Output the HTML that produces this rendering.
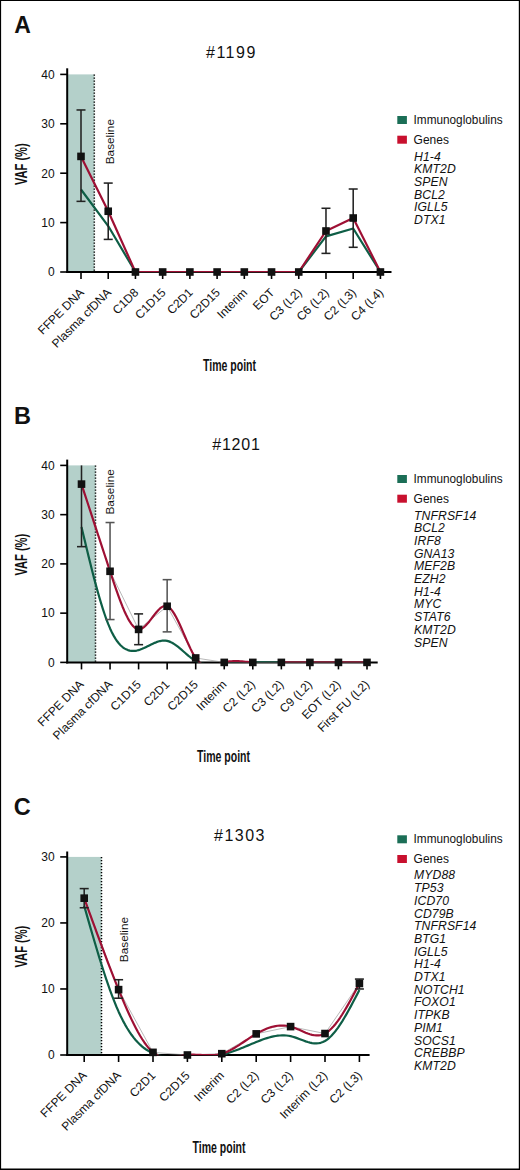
<!DOCTYPE html>
<html><head><meta charset="utf-8"><style>
html,body{margin:0;padding:0;background:#fff;}
svg{display:block;}
</style></head><body>
<svg width="520" height="1170" viewBox="0 0 520 1170" font-family='"Liberation Sans", sans-serif' fill="#111">
<rect x="0" y="0" width="520" height="1170" fill="#fff"/>
<text x="14.2" y="33" font-size="23" font-weight="bold">A</text>
<text x="206" y="58.1" font-size="16" letter-spacing="1.5">#1199</text>
<rect x="67.2" y="74.40" width="27.10" height="197.60" fill="#b4d0ca"/>
<line x1="94.3" y1="74.40" x2="94.3" y2="272.0" stroke="#000" stroke-width="1.5" stroke-dasharray="1.4 1.6"/>
<text transform="translate(113.8,164.3) rotate(-90)" font-size="11.8">Baseline</text>
<line x1="67.2" y1="68.3" x2="67.2" y2="273.0" stroke="#000" stroke-width="2"/>
<line x1="60.2" y1="272.00" x2="67.2" y2="272.00" stroke="#000" stroke-width="1.6"/>
<text x="54.7" y="276.30" font-size="12" text-anchor="end">0</text>
<line x1="60.2" y1="222.60" x2="67.2" y2="222.60" stroke="#000" stroke-width="1.6"/>
<text x="54.7" y="226.90" font-size="12" text-anchor="end">10</text>
<line x1="60.2" y1="173.20" x2="67.2" y2="173.20" stroke="#000" stroke-width="1.6"/>
<text x="54.7" y="177.50" font-size="12" text-anchor="end">20</text>
<line x1="60.2" y1="123.80" x2="67.2" y2="123.80" stroke="#000" stroke-width="1.6"/>
<text x="54.7" y="128.10" font-size="12" text-anchor="end">30</text>
<line x1="60.2" y1="74.40" x2="67.2" y2="74.40" stroke="#000" stroke-width="1.6"/>
<text x="54.7" y="78.70" font-size="12" text-anchor="end">40</text>
<line x1="66.2" y1="272.0" x2="391.5" y2="272.0" stroke="#000" stroke-width="2"/>
<line x1="81.00" y1="272.0" x2="81.00" y2="279.0" stroke="#000" stroke-width="1.6"/>
<text transform="translate(84.70,293.30) rotate(-45)" font-size="12" text-anchor="end">FFPE DNA</text>
<line x1="108.22" y1="272.0" x2="108.22" y2="279.0" stroke="#000" stroke-width="1.6"/>
<text transform="translate(111.92,293.30) rotate(-45)" font-size="12" text-anchor="end">Plasma cfDNA</text>
<line x1="135.44" y1="272.0" x2="135.44" y2="279.0" stroke="#000" stroke-width="1.6"/>
<text transform="translate(139.14,293.30) rotate(-45)" font-size="12" text-anchor="end">C1D8</text>
<line x1="162.66" y1="272.0" x2="162.66" y2="279.0" stroke="#000" stroke-width="1.6"/>
<text transform="translate(166.36,293.30) rotate(-45)" font-size="12" text-anchor="end">C1D15</text>
<line x1="189.88" y1="272.0" x2="189.88" y2="279.0" stroke="#000" stroke-width="1.6"/>
<text transform="translate(193.58,293.30) rotate(-45)" font-size="12" text-anchor="end">C2D1</text>
<line x1="217.10" y1="272.0" x2="217.10" y2="279.0" stroke="#000" stroke-width="1.6"/>
<text transform="translate(220.80,293.30) rotate(-45)" font-size="12" text-anchor="end">C2D15</text>
<line x1="244.32" y1="272.0" x2="244.32" y2="279.0" stroke="#000" stroke-width="1.6"/>
<text transform="translate(248.02,293.30) rotate(-45)" font-size="12" text-anchor="end">Interim</text>
<line x1="271.54" y1="272.0" x2="271.54" y2="279.0" stroke="#000" stroke-width="1.6"/>
<text transform="translate(275.24,293.30) rotate(-45)" font-size="12" text-anchor="end">EOT</text>
<line x1="298.76" y1="272.0" x2="298.76" y2="279.0" stroke="#000" stroke-width="1.6"/>
<text transform="translate(302.46,293.30) rotate(-45)" font-size="12" text-anchor="end">C3 (L2)</text>
<line x1="325.98" y1="272.0" x2="325.98" y2="279.0" stroke="#000" stroke-width="1.6"/>
<text transform="translate(329.68,293.30) rotate(-45)" font-size="12" text-anchor="end">C6 (L2)</text>
<line x1="353.20" y1="272.0" x2="353.20" y2="279.0" stroke="#000" stroke-width="1.6"/>
<text transform="translate(356.90,293.30) rotate(-45)" font-size="12" text-anchor="end">C2 (L3)</text>
<line x1="380.42" y1="272.0" x2="380.42" y2="279.0" stroke="#000" stroke-width="1.6"/>
<text transform="translate(384.12,293.30) rotate(-45)" font-size="12" text-anchor="end">C4 (L4)</text>
<text transform="translate(27,164.2) rotate(-90)" font-size="16" font-weight="bold" text-anchor="middle" textLength="41.8" lengthAdjust="spacingAndGlyphs">VAF (%)</text>
<text x="203" y="370.5" font-size="16.5" font-weight="bold" textLength="53" lengthAdjust="spacingAndGlyphs">Time point</text>
<clipPath id="clipA"><rect x="67.2" y="54.40" width="324.30" height="217.80"/></clipPath>
<g clip-path="url(#clipA)">
<path d="M81.00,189.50 L108.22,226.06 L135.44,272.00 L162.66,272.00 L189.88,272.00 L217.10,272.00 L244.32,272.00 L271.54,272.00 L298.76,272.00 L325.98,236.43 L353.20,228.53 L380.42,272.00" fill="none" stroke="#0e5e46" stroke-width="2.2" stroke-linejoin="round"/>
<path d="M81.00,156.40 L108.22,211.24 L135.44,272.00 L162.66,272.00 L189.88,272.00 L217.10,272.00 L244.32,272.00 L271.54,272.00 L298.76,272.00 L325.98,231.00 L353.20,218.01 L380.42,272.00" fill="none" stroke="#9e1034" stroke-width="2.2" stroke-linejoin="round"/>
</g>
<line x1="81.00" y1="109.97" x2="81.00" y2="201.36" stroke="#222" stroke-width="1.55"/>
<line x1="76.50" y1="109.97" x2="85.50" y2="109.97" stroke="#222" stroke-width="1.55"/>
<line x1="76.50" y1="201.36" x2="85.50" y2="201.36" stroke="#222" stroke-width="1.55"/>
<line x1="108.22" y1="183.08" x2="108.22" y2="239.40" stroke="#222" stroke-width="1.55"/>
<line x1="103.72" y1="183.08" x2="112.72" y2="183.08" stroke="#222" stroke-width="1.55"/>
<line x1="103.72" y1="239.40" x2="112.72" y2="239.40" stroke="#222" stroke-width="1.55"/>
<line x1="325.98" y1="208.27" x2="325.98" y2="253.38" stroke="#222" stroke-width="1.55"/>
<line x1="321.48" y1="208.27" x2="330.48" y2="208.27" stroke="#222" stroke-width="1.55"/>
<line x1="321.48" y1="253.38" x2="330.48" y2="253.38" stroke="#222" stroke-width="1.55"/>
<line x1="353.20" y1="189.01" x2="353.20" y2="247.30" stroke="#222" stroke-width="1.55"/>
<line x1="348.70" y1="189.01" x2="357.70" y2="189.01" stroke="#222" stroke-width="1.55"/>
<line x1="348.70" y1="247.30" x2="357.70" y2="247.30" stroke="#222" stroke-width="1.55"/>
<rect x="77.20" y="152.60" width="7.6" height="7.6" fill="#111"/>
<rect x="104.42" y="207.44" width="7.6" height="7.6" fill="#111"/>
<rect x="131.64" y="268.20" width="7.6" height="7.6" fill="#111"/>
<rect x="158.86" y="268.20" width="7.6" height="7.6" fill="#111"/>
<rect x="186.08" y="268.20" width="7.6" height="7.6" fill="#111"/>
<rect x="213.30" y="268.20" width="7.6" height="7.6" fill="#111"/>
<rect x="240.52" y="268.20" width="7.6" height="7.6" fill="#111"/>
<rect x="267.74" y="268.20" width="7.6" height="7.6" fill="#111"/>
<rect x="294.96" y="268.20" width="7.6" height="7.6" fill="#111"/>
<rect x="322.18" y="227.20" width="7.6" height="7.6" fill="#111"/>
<rect x="349.40" y="214.21" width="7.6" height="7.6" fill="#111"/>
<rect x="376.62" y="268.20" width="7.6" height="7.6" fill="#111"/>
<rect x="397.3" y="116.0" width="9.6" height="8" fill="#1b6e56"/>
<text x="413.6" y="124" font-size="12.5" textLength="89" lengthAdjust="spacingAndGlyphs">Immunoglobulins</text>
<rect x="397.3" y="135.7" width="9.6" height="8" fill="#c8102e"/>
<text x="413.6" y="143.7" font-size="12.5" textLength="35.3" lengthAdjust="spacingAndGlyphs">Genes</text>
<text x="414" y="160.6" font-size="12.2" font-style="italic" letter-spacing="0.1">H1-4</text>
<text x="414" y="173.3" font-size="12.2" font-style="italic" letter-spacing="0.1">KMT2D</text>
<text x="414" y="186.0" font-size="12.2" font-style="italic" letter-spacing="0.1">SPEN</text>
<text x="414" y="198.7" font-size="12.2" font-style="italic" letter-spacing="0.1">BCL2</text>
<text x="414" y="211.4" font-size="12.2" font-style="italic" letter-spacing="0.1">IGLL5</text>
<text x="414" y="224.1" font-size="12.2" font-style="italic" letter-spacing="0.1">DTX1</text>
<text x="14" y="423.6" font-size="23.5" font-weight="bold">B</text>
<text x="212.2" y="449.6" font-size="16" letter-spacing="0.8">#1201</text>
<rect x="67.2" y="465.40" width="28.30" height="197.00" fill="#b4d0ca"/>
<line x1="95.5" y1="465.40" x2="95.5" y2="662.4" stroke="#000" stroke-width="1.5" stroke-dasharray="1.4 1.6"/>
<text transform="translate(114,514.5) rotate(-90)" font-size="11.8">Baseline</text>
<line x1="67.2" y1="459.6" x2="67.2" y2="663.4" stroke="#000" stroke-width="2"/>
<line x1="60.2" y1="662.40" x2="67.2" y2="662.40" stroke="#000" stroke-width="1.6"/>
<text x="54.7" y="666.70" font-size="12" text-anchor="end">0</text>
<line x1="60.2" y1="613.15" x2="67.2" y2="613.15" stroke="#000" stroke-width="1.6"/>
<text x="54.7" y="617.45" font-size="12" text-anchor="end">10</text>
<line x1="60.2" y1="563.90" x2="67.2" y2="563.90" stroke="#000" stroke-width="1.6"/>
<text x="54.7" y="568.20" font-size="12" text-anchor="end">20</text>
<line x1="60.2" y1="514.65" x2="67.2" y2="514.65" stroke="#000" stroke-width="1.6"/>
<text x="54.7" y="518.95" font-size="12" text-anchor="end">30</text>
<line x1="60.2" y1="465.40" x2="67.2" y2="465.40" stroke="#000" stroke-width="1.6"/>
<text x="54.7" y="469.70" font-size="12" text-anchor="end">40</text>
<line x1="66.2" y1="662.4" x2="377.7" y2="662.4" stroke="#000" stroke-width="2"/>
<line x1="81.50" y1="662.4" x2="81.50" y2="669.4" stroke="#000" stroke-width="1.6"/>
<text transform="translate(84.50,685.20) rotate(-45)" font-size="12" text-anchor="end">FFPE DNA</text>
<line x1="110.05" y1="662.4" x2="110.05" y2="669.4" stroke="#000" stroke-width="1.6"/>
<text transform="translate(113.05,685.20) rotate(-45)" font-size="12" text-anchor="end">Plasma cfDNA</text>
<line x1="138.60" y1="662.4" x2="138.60" y2="669.4" stroke="#000" stroke-width="1.6"/>
<text transform="translate(141.60,685.20) rotate(-45)" font-size="12" text-anchor="end">C1D15</text>
<line x1="167.15" y1="662.4" x2="167.15" y2="669.4" stroke="#000" stroke-width="1.6"/>
<text transform="translate(170.15,685.20) rotate(-45)" font-size="12" text-anchor="end">C2D1</text>
<line x1="195.70" y1="662.4" x2="195.70" y2="669.4" stroke="#000" stroke-width="1.6"/>
<text transform="translate(198.70,685.20) rotate(-45)" font-size="12" text-anchor="end">C2D15</text>
<line x1="224.25" y1="662.4" x2="224.25" y2="669.4" stroke="#000" stroke-width="1.6"/>
<text transform="translate(227.25,685.20) rotate(-45)" font-size="12" text-anchor="end">Interim</text>
<line x1="252.80" y1="662.4" x2="252.80" y2="669.4" stroke="#000" stroke-width="1.6"/>
<text transform="translate(255.80,685.20) rotate(-45)" font-size="12" text-anchor="end">C2 (L2)</text>
<line x1="281.35" y1="662.4" x2="281.35" y2="669.4" stroke="#000" stroke-width="1.6"/>
<text transform="translate(284.35,685.20) rotate(-45)" font-size="12" text-anchor="end">C3 (L2)</text>
<line x1="309.90" y1="662.4" x2="309.90" y2="669.4" stroke="#000" stroke-width="1.6"/>
<text transform="translate(312.90,685.20) rotate(-45)" font-size="12" text-anchor="end">C9 (L2)</text>
<line x1="338.45" y1="662.4" x2="338.45" y2="669.4" stroke="#000" stroke-width="1.6"/>
<text transform="translate(341.45,685.20) rotate(-45)" font-size="12" text-anchor="end">EOT (L2)</text>
<line x1="367.00" y1="662.4" x2="367.00" y2="669.4" stroke="#000" stroke-width="1.6"/>
<text transform="translate(370.00,685.20) rotate(-45)" font-size="12" text-anchor="end">First FU (L2)</text>
<text transform="translate(27,554.7) rotate(-90)" font-size="16" font-weight="bold" text-anchor="middle" textLength="41.8" lengthAdjust="spacingAndGlyphs">VAF (%)</text>
<text x="197" y="761.6" font-size="16.5" font-weight="bold" textLength="53" lengthAdjust="spacingAndGlyphs">Time point</text>
<clipPath id="clipB"><rect x="67.2" y="445.40" width="310.50" height="217.20"/></clipPath>
<g clip-path="url(#clipB)">
<path d="M81.50,484.12 L110.05,571.29 L138.60,629.40 L167.15,606.25 L195.70,657.97 L224.25,662.40 L252.80,662.40 L281.35,662.40 L309.90,662.40 L338.45,662.40 L367.00,662.40" fill="none" stroke="#888" stroke-width="0.6"/>
<path d="M81.50,526.91 L83.28,534.41 L85.07,541.88 L86.85,549.30 L88.64,556.63 L90.42,563.86 L92.21,570.95 L93.99,577.88 L95.78,584.61 L97.56,591.13 L99.34,597.41 L101.13,603.41 L102.91,609.12 L104.70,614.50 L106.48,619.53 L108.27,624.18 L110.05,628.42 L111.83,632.23 L113.62,635.63 L115.40,638.63 L117.19,641.26 L118.97,643.52 L120.76,645.45 L122.54,647.05 L124.32,648.35 L126.11,649.36 L127.89,650.11 L129.68,650.62 L131.46,650.89 L133.25,650.96 L135.03,650.83 L136.82,650.54 L138.60,650.09 L140.38,649.50 L142.17,648.81 L143.95,648.03 L145.74,647.19 L147.52,646.31 L149.31,645.41 L151.09,644.52 L152.88,643.67 L154.66,642.87 L156.44,642.15 L158.23,641.54 L160.01,641.06 L161.80,640.72 L163.58,640.57 L165.37,640.61 L167.15,640.88 L168.93,641.38 L170.72,642.11 L172.50,643.04 L174.29,644.13 L176.07,645.36 L177.86,646.72 L179.64,648.16 L181.43,649.67 L183.21,651.21 L184.99,652.77 L186.78,654.32 L188.56,655.82 L190.35,657.26 L192.13,658.61 L193.92,659.84 L195.70,660.92 L197.48,661.84 L199.27,662.60 L201.05,663.22 L202.84,663.70 L204.62,664.06 L206.41,664.31 L208.19,664.46 L209.97,664.52 L211.76,664.51 L213.54,664.44 L215.33,664.32 L217.11,664.16 L218.90,663.98 L220.68,663.78 L222.47,663.58 L224.25,663.38 L226.03,663.21 L227.82,663.07 L229.60,662.94 L231.39,662.82 L233.17,662.73 L234.96,662.65 L236.74,662.58 L238.53,662.53 L240.31,662.49 L242.09,662.46 L243.88,662.44 L245.66,662.42 L247.45,662.41 L249.23,662.40 L251.02,662.40 L252.80,662.40 L254.58,662.40 L256.37,662.40 L258.15,662.40 L259.94,662.40 L261.72,662.40 L263.51,662.40 L265.29,662.40 L267.08,662.40 L268.86,662.40 L270.64,662.40 L272.43,662.40 L274.21,662.40 L276.00,662.40 L277.78,662.40 L279.57,662.40 L281.35,662.40 L283.13,662.40 L284.92,662.40 L286.70,662.40 L288.49,662.40 L290.27,662.40 L292.06,662.40 L293.84,662.40 L295.62,662.40 L297.41,662.40 L299.19,662.40 L300.98,662.40 L302.76,662.40 L304.55,662.40 L306.33,662.40 L308.12,662.40 L309.90,662.40 L311.68,662.40 L313.47,662.40 L315.25,662.40 L317.04,662.40 L318.82,662.40 L320.61,662.40 L322.39,662.40 L324.17,662.40 L325.96,662.40 L327.74,662.40 L329.53,662.40 L331.31,662.40 L333.10,662.40 L334.88,662.40 L336.67,662.40 L338.45,662.40 L340.23,662.40 L342.02,662.40 L343.80,662.40 L345.59,662.40 L347.37,662.40 L349.16,662.40 L350.94,662.40 L352.73,662.40 L354.51,662.40 L356.29,662.40 L358.08,662.40 L359.86,662.40 L361.65,662.40 L363.43,662.40 L365.22,662.40 L367.00,662.40" fill="none" stroke="#0e5e46" stroke-width="2.2" stroke-linejoin="round"/>
<path d="M81.50,484.12 L83.28,489.58 L85.07,495.05 L86.85,500.51 L88.64,505.97 L90.42,511.43 L92.21,516.89 L93.99,522.35 L95.78,527.80 L97.56,533.25 L99.34,538.70 L101.13,544.15 L102.91,549.58 L104.70,555.02 L106.48,560.45 L108.27,565.87 L110.05,571.29 L111.83,576.69 L113.62,582.05 L115.40,587.32 L117.19,592.46 L118.97,597.43 L120.76,602.20 L122.54,606.71 L124.32,610.93 L126.11,614.83 L127.89,618.35 L129.68,621.46 L131.46,624.11 L133.25,626.28 L135.03,627.91 L136.82,628.96 L138.60,629.40 L140.38,629.21 L142.17,628.45 L143.95,627.20 L145.74,625.56 L147.52,623.60 L149.31,621.43 L151.09,619.11 L152.88,616.74 L154.66,614.41 L156.44,612.19 L158.23,610.19 L160.01,608.47 L161.80,607.13 L163.58,606.26 L165.37,605.94 L167.15,606.25 L168.93,607.27 L170.72,608.93 L172.50,611.16 L174.29,613.89 L176.07,617.04 L177.86,620.54 L179.64,624.31 L181.43,628.27 L183.21,632.35 L184.99,636.48 L186.78,640.58 L188.56,644.57 L190.35,648.38 L192.13,651.93 L193.92,655.16 L195.70,657.97 L197.48,660.32 L199.27,662.22 L201.05,663.71 L202.84,664.82 L204.62,665.61 L206.41,666.09 L208.19,666.30 L209.97,666.29 L211.76,666.09 L213.54,665.73 L215.33,665.26 L217.11,664.70 L218.90,664.10 L220.68,663.49 L222.47,662.91 L224.25,662.40 L226.03,661.98 L227.82,661.65 L229.60,661.41 L231.39,661.25 L233.17,661.16 L234.96,661.12 L236.74,661.14 L238.53,661.21 L240.31,661.31 L242.09,661.44 L243.88,661.60 L245.66,661.76 L247.45,661.94 L249.23,662.10 L251.02,662.26 L252.80,662.40 L254.58,662.51 L256.37,662.60 L258.15,662.66 L259.94,662.71 L261.72,662.73 L263.51,662.74 L265.29,662.74 L267.08,662.72 L268.86,662.69 L270.64,662.66 L272.43,662.61 L274.21,662.57 L276.00,662.52 L277.78,662.48 L279.57,662.44 L281.35,662.40 L283.13,662.37 L284.92,662.35 L286.70,662.33 L288.49,662.32 L290.27,662.31 L292.06,662.31 L293.84,662.31 L295.62,662.31 L297.41,662.32 L299.19,662.33 L300.98,662.34 L302.76,662.35 L304.55,662.37 L306.33,662.38 L308.12,662.39 L309.90,662.40 L311.68,662.41 L313.47,662.41 L315.25,662.42 L317.04,662.42 L318.82,662.42 L320.61,662.42 L322.39,662.42 L324.17,662.42 L325.96,662.42 L327.74,662.42 L329.53,662.42 L331.31,662.41 L333.10,662.41 L334.88,662.41 L336.67,662.40 L338.45,662.40 L340.23,662.40 L342.02,662.40 L343.80,662.39 L345.59,662.39 L347.37,662.39 L349.16,662.39 L350.94,662.39 L352.73,662.39 L354.51,662.39 L356.29,662.39 L358.08,662.39 L359.86,662.40 L361.65,662.40 L363.43,662.40 L365.22,662.40 L367.00,662.40" fill="none" stroke="#9e1034" stroke-width="2.2" stroke-linejoin="round"/>
<line x1="252.80" y1="662.40" x2="281.35" y2="662.40" stroke="#0e5e46" stroke-width="2.2"/>
</g>
<line x1="81.50" y1="465.40" x2="81.50" y2="546.66" stroke="#222" stroke-width="1.55"/>
<line x1="77.00" y1="546.66" x2="86.00" y2="546.66" stroke="#222" stroke-width="1.55"/>
<line x1="110.05" y1="522.53" x2="110.05" y2="619.55" stroke="#555" stroke-width="1.55"/>
<line x1="105.55" y1="522.53" x2="114.55" y2="522.53" stroke="#555" stroke-width="1.55"/>
<line x1="105.55" y1="619.55" x2="114.55" y2="619.55" stroke="#555" stroke-width="1.55"/>
<line x1="138.60" y1="613.89" x2="138.60" y2="644.67" stroke="#222" stroke-width="1.55"/>
<line x1="134.10" y1="613.89" x2="143.10" y2="613.89" stroke="#222" stroke-width="1.55"/>
<line x1="134.10" y1="644.67" x2="143.10" y2="644.67" stroke="#222" stroke-width="1.55"/>
<line x1="167.15" y1="579.66" x2="167.15" y2="631.87" stroke="#555" stroke-width="1.55"/>
<line x1="162.65" y1="579.66" x2="171.65" y2="579.66" stroke="#555" stroke-width="1.55"/>
<line x1="162.65" y1="631.87" x2="171.65" y2="631.87" stroke="#555" stroke-width="1.55"/>
<rect x="77.70" y="480.31" width="7.6" height="7.6" fill="#111"/>
<rect x="106.25" y="567.49" width="7.6" height="7.6" fill="#111"/>
<rect x="134.80" y="625.60" width="7.6" height="7.6" fill="#111"/>
<rect x="163.35" y="602.46" width="7.6" height="7.6" fill="#111"/>
<rect x="191.90" y="654.17" width="7.6" height="7.6" fill="#111"/>
<rect x="220.45" y="658.60" width="7.6" height="7.6" fill="#111"/>
<rect x="249.00" y="658.60" width="7.6" height="7.6" fill="#111"/>
<rect x="277.55" y="658.60" width="7.6" height="7.6" fill="#111"/>
<rect x="306.10" y="658.60" width="7.6" height="7.6" fill="#111"/>
<rect x="334.65" y="658.60" width="7.6" height="7.6" fill="#111"/>
<rect x="363.20" y="658.60" width="7.6" height="7.6" fill="#111"/>
<rect x="397.3" y="475.0" width="9.6" height="8" fill="#1b6e56"/>
<text x="413.6" y="483" font-size="12.5" textLength="89" lengthAdjust="spacingAndGlyphs">Immunoglobulins</text>
<rect x="397.3" y="494.7" width="9.6" height="8" fill="#c8102e"/>
<text x="413.6" y="502.7" font-size="12.5" textLength="35.3" lengthAdjust="spacingAndGlyphs">Genes</text>
<text x="414" y="519.5" font-size="12.2" font-style="italic" letter-spacing="0.1">TNFRSF14</text>
<text x="414" y="532.2" font-size="12.2" font-style="italic" letter-spacing="0.1">BCL2</text>
<text x="414" y="544.9" font-size="12.2" font-style="italic" letter-spacing="0.1">IRF8</text>
<text x="414" y="557.6" font-size="12.2" font-style="italic" letter-spacing="0.1">GNA13</text>
<text x="414" y="570.3" font-size="12.2" font-style="italic" letter-spacing="0.1">MEF2B</text>
<text x="414" y="583.0" font-size="12.2" font-style="italic" letter-spacing="0.1">EZH2</text>
<text x="414" y="595.7" font-size="12.2" font-style="italic" letter-spacing="0.1">H1-4</text>
<text x="414" y="608.4" font-size="12.2" font-style="italic" letter-spacing="0.1">MYC</text>
<text x="414" y="621.1" font-size="12.2" font-style="italic" letter-spacing="0.1">STAT6</text>
<text x="414" y="633.8" font-size="12.2" font-style="italic" letter-spacing="0.1">KMT2D</text>
<text x="414" y="646.5" font-size="12.2" font-style="italic" letter-spacing="0.1">SPEN</text>
<text x="13.8" y="814.8" font-size="23.5" font-weight="bold">C</text>
<text x="214" y="840.8" font-size="16" letter-spacing="1.5">#1303</text>
<rect x="67.2" y="856.91" width="34.30" height="198.09" fill="#b4d0ca"/>
<line x1="101.5" y1="856.91" x2="101.5" y2="1055.0" stroke="#000" stroke-width="1.5" stroke-dasharray="1.4 1.6"/>
<text transform="translate(127.5,962.2) rotate(-90)" font-size="11.8">Baseline</text>
<line x1="67.2" y1="851.5" x2="67.2" y2="1056.0" stroke="#000" stroke-width="2"/>
<line x1="60.2" y1="1055.00" x2="67.2" y2="1055.00" stroke="#000" stroke-width="1.6"/>
<text x="54.7" y="1059.30" font-size="12" text-anchor="end">0</text>
<line x1="60.2" y1="988.97" x2="67.2" y2="988.97" stroke="#000" stroke-width="1.6"/>
<text x="54.7" y="993.27" font-size="12" text-anchor="end">10</text>
<line x1="60.2" y1="922.94" x2="67.2" y2="922.94" stroke="#000" stroke-width="1.6"/>
<text x="54.7" y="927.24" font-size="12" text-anchor="end">20</text>
<line x1="60.2" y1="856.91" x2="67.2" y2="856.91" stroke="#000" stroke-width="1.6"/>
<text x="54.7" y="861.21" font-size="12" text-anchor="end">30</text>
<line x1="66.2" y1="1055.0" x2="369.6" y2="1055.0" stroke="#000" stroke-width="2"/>
<line x1="84.20" y1="1055.0" x2="84.20" y2="1062.0" stroke="#000" stroke-width="1.6"/>
<text transform="translate(87.30,1076.20) rotate(-45)" font-size="12" text-anchor="end">FFPE DNA</text>
<line x1="118.60" y1="1055.0" x2="118.60" y2="1062.0" stroke="#000" stroke-width="1.6"/>
<text transform="translate(121.70,1076.20) rotate(-45)" font-size="12" text-anchor="end">Plasma cfDNA</text>
<line x1="153.00" y1="1055.0" x2="153.00" y2="1062.0" stroke="#000" stroke-width="1.6"/>
<text transform="translate(156.10,1076.20) rotate(-45)" font-size="12" text-anchor="end">C2D1</text>
<line x1="187.40" y1="1055.0" x2="187.40" y2="1062.0" stroke="#000" stroke-width="1.6"/>
<text transform="translate(190.50,1076.20) rotate(-45)" font-size="12" text-anchor="end">C2D15</text>
<line x1="221.80" y1="1055.0" x2="221.80" y2="1062.0" stroke="#000" stroke-width="1.6"/>
<text transform="translate(224.90,1076.20) rotate(-45)" font-size="12" text-anchor="end">Interim</text>
<line x1="256.20" y1="1055.0" x2="256.20" y2="1062.0" stroke="#000" stroke-width="1.6"/>
<text transform="translate(259.30,1076.20) rotate(-45)" font-size="12" text-anchor="end">C2 (L2)</text>
<line x1="290.60" y1="1055.0" x2="290.60" y2="1062.0" stroke="#000" stroke-width="1.6"/>
<text transform="translate(293.70,1076.20) rotate(-45)" font-size="12" text-anchor="end">C3 (L2)</text>
<line x1="325.00" y1="1055.0" x2="325.00" y2="1062.0" stroke="#000" stroke-width="1.6"/>
<text transform="translate(328.10,1076.20) rotate(-45)" font-size="12" text-anchor="end">Interim (L2)</text>
<line x1="359.40" y1="1055.0" x2="359.40" y2="1062.0" stroke="#000" stroke-width="1.6"/>
<text transform="translate(362.50,1076.20) rotate(-45)" font-size="12" text-anchor="end">C2 (L3)</text>
<text transform="translate(27,946.6) rotate(-90)" font-size="16" font-weight="bold" text-anchor="middle" textLength="41.8" lengthAdjust="spacingAndGlyphs">VAF (%)</text>
<text x="192.5" y="1152.5" font-size="16.5" font-weight="bold" textLength="53" lengthAdjust="spacingAndGlyphs">Time point</text>
<clipPath id="clipC"><rect x="67.2" y="836.91" width="302.40" height="218.29"/></clipPath>
<g clip-path="url(#clipC)">
<path d="M84.20,898.18 L118.60,989.63 L153.00,1052.36 L187.40,1055.00 L221.80,1053.68 L256.20,1033.87 L290.60,1026.61 L325.00,1033.54 L359.40,983.49" fill="none" stroke="#888" stroke-width="0.6"/>
<path d="M84.20,905.90 L86.35,913.42 L88.50,920.92 L90.65,928.37 L92.80,935.76 L94.95,943.06 L97.10,950.26 L99.25,957.33 L101.40,964.25 L103.55,971.00 L105.70,977.55 L107.85,983.90 L110.00,990.01 L112.15,995.86 L114.30,1001.44 L116.45,1006.72 L118.60,1011.68 L120.75,1016.31 L122.90,1020.61 L125.05,1024.59 L127.20,1028.27 L129.35,1031.65 L131.50,1034.76 L133.65,1037.61 L135.80,1040.20 L137.95,1042.54 L140.10,1044.66 L142.25,1046.57 L144.40,1048.27 L146.55,1049.78 L148.70,1051.11 L150.85,1052.27 L153.00,1053.28 L155.15,1054.15 L157.30,1054.89 L159.45,1055.51 L161.60,1056.01 L163.75,1056.41 L165.90,1056.72 L168.05,1056.95 L170.20,1057.11 L172.35,1057.21 L174.50,1057.25 L176.65,1057.25 L178.80,1057.22 L180.95,1057.17 L183.10,1057.11 L185.25,1057.04 L187.40,1056.98 L189.55,1056.94 L191.70,1056.90 L193.85,1056.88 L196.00,1056.85 L198.15,1056.83 L200.30,1056.79 L202.45,1056.73 L204.60,1056.66 L206.75,1056.56 L208.90,1056.43 L211.05,1056.26 L213.20,1056.05 L215.35,1055.79 L217.50,1055.48 L219.65,1055.11 L221.80,1054.67 L223.95,1054.17 L226.10,1053.60 L228.25,1052.97 L230.40,1052.30 L232.55,1051.57 L234.70,1050.80 L236.85,1050.00 L239.00,1049.16 L241.15,1048.30 L243.30,1047.43 L245.45,1046.53 L247.60,1045.63 L249.75,1044.73 L251.90,1043.83 L254.05,1042.94 L256.20,1042.06 L258.35,1041.20 L260.50,1040.37 L262.65,1039.58 L264.80,1038.82 L266.95,1038.13 L269.10,1037.49 L271.25,1036.92 L273.40,1036.42 L275.55,1036.01 L277.70,1035.70 L279.85,1035.48 L282.00,1035.37 L284.15,1035.38 L286.30,1035.51 L288.45,1035.78 L290.60,1036.18 L292.75,1036.73 L294.90,1037.39 L297.05,1038.14 L299.20,1038.95 L301.35,1039.77 L303.50,1040.58 L305.65,1041.35 L307.80,1042.04 L309.95,1042.63 L312.10,1043.07 L314.25,1043.34 L316.40,1043.41 L318.55,1043.24 L320.70,1042.81 L322.85,1042.07 L325.00,1041.00 L327.15,1039.58 L329.30,1037.81 L331.45,1035.73 L333.60,1033.34 L335.75,1030.69 L337.90,1027.78 L340.05,1024.65 L342.20,1021.31 L344.35,1017.79 L346.50,1014.11 L348.65,1010.30 L350.80,1006.37 L352.95,1002.34 L355.10,998.25 L357.25,994.12 L359.40,989.96" fill="none" stroke="#0e5e46" stroke-width="2.2" stroke-linejoin="round"/>
<path d="M84.20,898.18 L86.35,904.10 L88.50,910.02 L90.65,915.93 L92.80,921.83 L94.95,927.70 L97.10,933.55 L99.25,939.38 L101.40,945.16 L103.55,950.91 L105.70,956.61 L107.85,962.27 L110.00,967.87 L112.15,973.41 L114.30,978.89 L116.45,984.30 L118.60,989.63 L120.75,994.88 L122.90,1000.04 L125.05,1005.09 L127.20,1010.00 L129.35,1014.76 L131.50,1019.36 L133.65,1023.78 L135.80,1027.99 L137.95,1031.98 L140.10,1035.74 L142.25,1039.25 L144.40,1042.48 L146.55,1045.43 L148.70,1048.07 L150.85,1050.38 L153.00,1052.36 L155.15,1053.98 L157.30,1055.28 L159.45,1056.27 L161.60,1056.99 L163.75,1057.47 L165.90,1057.74 L168.05,1057.82 L170.20,1057.74 L172.35,1057.54 L174.50,1057.24 L176.65,1056.87 L178.80,1056.46 L180.95,1056.04 L183.10,1055.64 L185.25,1055.28 L187.40,1055.00 L189.55,1054.82 L191.70,1054.72 L193.85,1054.70 L196.00,1054.73 L198.15,1054.80 L200.30,1054.90 L202.45,1055.01 L204.60,1055.11 L206.75,1055.18 L208.90,1055.21 L211.05,1055.19 L213.20,1055.10 L215.35,1054.92 L217.50,1054.63 L219.65,1054.22 L221.80,1053.68 L223.95,1052.99 L226.10,1052.16 L228.25,1051.21 L230.40,1050.14 L232.55,1048.98 L234.70,1047.74 L236.85,1046.43 L239.00,1045.06 L241.15,1043.66 L243.30,1042.23 L245.45,1040.78 L247.60,1039.34 L249.75,1037.91 L251.90,1036.52 L254.05,1035.16 L256.20,1033.87 L258.35,1032.65 L260.50,1031.50 L262.65,1030.44 L264.80,1029.46 L266.95,1028.58 L269.10,1027.80 L271.25,1027.12 L273.40,1026.55 L275.55,1026.10 L277.70,1025.76 L279.85,1025.56 L282.00,1025.48 L284.15,1025.55 L286.30,1025.75 L288.45,1026.10 L290.60,1026.61 L292.75,1027.26 L294.90,1028.05 L297.05,1028.92 L299.20,1029.86 L301.35,1030.81 L303.50,1031.77 L305.65,1032.68 L307.80,1033.51 L309.95,1034.24 L312.10,1034.83 L314.25,1035.24 L316.40,1035.45 L318.55,1035.42 L320.70,1035.11 L322.85,1034.50 L325.00,1033.54 L327.15,1032.22 L329.30,1030.55 L331.45,1028.56 L333.60,1026.26 L335.75,1023.68 L337.90,1020.84 L340.05,1017.77 L342.20,1014.49 L344.35,1011.02 L346.50,1007.39 L348.65,1003.62 L350.80,999.74 L352.95,995.76 L355.10,991.71 L357.25,987.61 L359.40,983.49" fill="none" stroke="#9e1034" stroke-width="2.2" stroke-linejoin="round"/>
</g>
<line x1="84.20" y1="888.60" x2="84.20" y2="907.75" stroke="#222" stroke-width="1.55"/>
<line x1="79.70" y1="888.60" x2="88.70" y2="888.60" stroke="#222" stroke-width="1.55"/>
<line x1="79.70" y1="907.75" x2="88.70" y2="907.75" stroke="#222" stroke-width="1.55"/>
<line x1="118.60" y1="979.73" x2="118.60" y2="998.21" stroke="#222" stroke-width="1.55"/>
<line x1="114.10" y1="979.73" x2="123.10" y2="979.73" stroke="#222" stroke-width="1.55"/>
<line x1="114.10" y1="998.21" x2="123.10" y2="998.21" stroke="#222" stroke-width="1.55"/>
<line x1="359.40" y1="979.07" x2="359.40" y2="988.97" stroke="#222" stroke-width="1.55"/>
<line x1="354.90" y1="979.07" x2="363.90" y2="979.07" stroke="#222" stroke-width="1.55"/>
<line x1="354.90" y1="988.97" x2="363.90" y2="988.97" stroke="#222" stroke-width="1.55"/>
<rect x="80.40" y="894.38" width="7.6" height="7.6" fill="#111"/>
<rect x="114.80" y="985.83" width="7.6" height="7.6" fill="#111"/>
<rect x="149.20" y="1048.56" width="7.6" height="7.6" fill="#111"/>
<rect x="183.60" y="1051.20" width="7.6" height="7.6" fill="#111"/>
<rect x="218.00" y="1049.88" width="7.6" height="7.6" fill="#111"/>
<rect x="252.40" y="1030.07" width="7.6" height="7.6" fill="#111"/>
<rect x="286.80" y="1022.81" width="7.6" height="7.6" fill="#111"/>
<rect x="321.20" y="1029.74" width="7.6" height="7.6" fill="#111"/>
<rect x="355.60" y="979.69" width="7.6" height="7.6" fill="#111"/>
<rect x="397.3" y="835.3" width="9.6" height="8" fill="#1b6e56"/>
<text x="413.6" y="843.3" font-size="12.5" textLength="89" lengthAdjust="spacingAndGlyphs">Immunoglobulins</text>
<rect x="397.3" y="855.0" width="9.6" height="8" fill="#c8102e"/>
<text x="413.6" y="863.0" font-size="12.5" textLength="35.3" lengthAdjust="spacingAndGlyphs">Genes</text>
<text x="414" y="879.4" font-size="12.2" font-style="italic" letter-spacing="0.1">MYD88</text>
<text x="414" y="892.1" font-size="12.2" font-style="italic" letter-spacing="0.1">TP53</text>
<text x="414" y="904.8" font-size="12.2" font-style="italic" letter-spacing="0.1">ICD70</text>
<text x="414" y="917.5" font-size="12.2" font-style="italic" letter-spacing="0.1">CD79B</text>
<text x="414" y="930.2" font-size="12.2" font-style="italic" letter-spacing="0.1">TNFRSF14</text>
<text x="414" y="942.9" font-size="12.2" font-style="italic" letter-spacing="0.1">BTG1</text>
<text x="414" y="955.6" font-size="12.2" font-style="italic" letter-spacing="0.1">IGLL5</text>
<text x="414" y="968.3" font-size="12.2" font-style="italic" letter-spacing="0.1">H1-4</text>
<text x="414" y="981.0" font-size="12.2" font-style="italic" letter-spacing="0.1">DTX1</text>
<text x="414" y="993.7" font-size="12.2" font-style="italic" letter-spacing="0.1">NOTCH1</text>
<text x="414" y="1006.4" font-size="12.2" font-style="italic" letter-spacing="0.1">FOXO1</text>
<text x="414" y="1019.1" font-size="12.2" font-style="italic" letter-spacing="0.1">ITPKB</text>
<text x="414" y="1031.8" font-size="12.2" font-style="italic" letter-spacing="0.1">PIM1</text>
<text x="414" y="1044.5" font-size="12.2" font-style="italic" letter-spacing="0.1">SOCS1</text>
<text x="414" y="1057.2" font-size="12.2" font-style="italic" letter-spacing="0.1">CREBBP</text>
<text x="414" y="1069.9" font-size="12.2" font-style="italic" letter-spacing="0.1">KMT2D</text>
<rect x="0" y="0" width="520" height="1" fill="#000"/>
<rect x="0" y="0" width="1.1" height="1170" fill="#000"/>
<rect x="518.8" y="0" width="1.2" height="1170" fill="#000"/>
<rect x="0" y="1168.5" width="520" height="1.5" fill="#000"/>
</svg>
</body></html>
